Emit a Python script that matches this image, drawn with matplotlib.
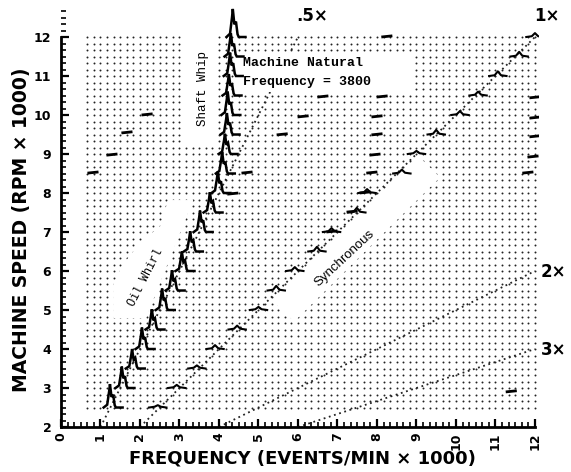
import numpy as np
import matplotlib
matplotlib.use("Agg")
import matplotlib.pyplot as plt
from matplotlib.patches import Polygon
from matplotlib.ticker import MultipleLocator

# cascade rows/columns: speed and frequency both in thousands
GRID_STEP = 1 / 6
row_speeds = np.arange(2.5, 12.0 + 1e-6, GRID_STEP)
col_freqs = np.arange(4 / 6, 12.0 + 1e-6, GRID_STEP)

# oil whirl -> shaft whip peak, one spectrum every 500 rpm
whirl_speed = [2.5, 3.0, 3.5, 4.0, 4.5, 5.0, 5.5, 6.0, 6.5, 7.0,
               7.5, 8.0, 8.5, 9.0, 9.5, 10.0, 10.5, 11.0, 11.5, 12.0]
whirl_freq = [1.24, 1.54, 1.80, 2.05, 2.30, 2.56, 2.81, 3.06, 3.27, 3.52,
              3.77, 3.97, 4.08, 4.15, 4.20, 4.22, 4.25, 4.28, 4.30, 4.35]
whirl_amp = [0.60, 0.55, 0.50, 0.55, 0.52, 0.55, 0.52, 0.50, 0.52, 0.55,
             0.52, 0.55, 0.55, 0.52, 0.55, 0.60, 0.55, 0.60, 0.60, 0.72]

# synchronous (1X) peaks
sync_speed = [2.5, 3.0, 3.5, 4.0, 4.5, 5.0, 5.5, 6.0, 6.5, 7.0,
              7.5, 8.0, 8.5, 9.0, 9.5, 10.0, 10.5, 11.0, 11.5, 12.0]
sync_freq = [2.45, 2.93, 3.44, 3.90, 4.46, 5.00, 5.45, 5.92, 6.48, 6.85,
             7.49, 7.75, 8.63, 9.00, 9.50, 10.10, 10.56, 11.06, 11.60, 12.0]
sync_amp = [0.06, 0.08, 0.08, 0.10, 0.10, 0.08, 0.12, 0.10, 0.12, 0.10,
            0.12, 0.10, 0.10, 0.08, 0.12, 0.10, 0.10, 0.12, 0.12, 0.10]

# small stray peaks in the cascade
noise_freq = [8.25, 6.63, 8.13, 6.13, 8.00, 5.60, 8.00, 7.95, 7.87, 11.82,
              11.95, 12.0, 12.0, 12.0, 7.70, 7.37, 6.86, 1.67, 1.29, 0.81,
              2.18, 4.71, 4.35, 11.40]
noise_speed = [12.0, 10.46, 10.46, 9.95, 9.95, 9.49, 9.49, 8.97, 8.51, 8.51,
               8.92, 9.44, 9.92, 10.44, 8.0, 7.51, 7.0, 9.54, 8.97, 8.51,
               10.0, 8.51, 7.97, 2.9]

orders = [0.5, 1, 2, 3]
order_labels = [".5×", "1×", "2×", "3×"]

fig = plt.figure(figsize=(5.71, 4.72), dpi=100)
ax = fig.add_axes([0.1068, 0.0953, 0.837, 0.8924])

# dotted noise floor of every spectrum
ff, ss = np.meshgrid(col_freqs, row_speeds)
ax.scatter(ff.ravel(), ss.ravel(), s=2.0, color="#222222", linewidths=0,
           zorder=1)

# order lines
for k in orders:
    sp = np.array([2.0, min(12.0, 12.0 / k)])
    ax.plot(k * sp, sp, color="#222222", lw=1.3, ls=(0, (1, 2.0)), zorder=1.5)

# white label areas that blank the cascade
masks = [
    [(3.08, 9.25), (3.92, 9.25), (3.92, 12.15), (3.08, 12.15)],
    [(4.45, 10.58), (8.9, 10.58), (8.9, 11.58), (4.45, 11.58)],
    [(1.32, 4.79), (1.32, 5.64), (1.54, 6.13), (2.0, 6.72), (2.51, 7.15),
     (2.71, 7.82), (3.35, 7.82), (2.15, 4.79)],
    [(5.35, 5.25), (9.05, 8.95), (9.6, 8.4), (5.9, 4.7)],
]
for m in masks:
    ax.add_patch(Polygon(m, closed=True, facecolor="white", edgecolor="none",
                         zorder=2))

# oil whirl / shaft whip spikes
for f, s, h in zip(whirl_freq, whirl_speed, whirl_amp):
    xs = [f - 0.16, f - 0.07, f - 0.02, f, f + 0.04, f + 0.08, f + 0.12,
          f + 0.15, f + 0.32]
    ys = [s, s + 0.12 * h, s + 0.7 * h, s + h, s + 0.45 * h, s + 0.55 * h,
          s + 0.1 * h, s, s]
    ax.plot(xs, ys, color="black", lw=1.8, solid_joinstyle="miter", zorder=4)

for f, s, h in zip(sync_freq, sync_speed, sync_amp):
    ax.plot([f - 0.22, f - 0.08, f, f + 0.08, f + 0.22],
            [s, s + 0.02, s + h, s + 0.02, s], color="black", lw=1.5,
            zorder=4)

for f, s in zip(noise_freq, noise_speed):
    ax.plot([f - 0.14, f + 0.14], [s, s + 0.03], color="black", lw=2.0,
            solid_capstyle="butt", zorder=4)

# axes
for side in ("top", "right"):
    ax.spines[side].set_visible(False)
ax.spines["left"].set_linewidth(2)
ax.spines["bottom"].set_linewidth(2)
ax.spines["left"].set_bounds(2, 12)
ax.spines["bottom"].set_bounds(0, 12)

ax.xaxis.set_minor_locator(MultipleLocator(GRID_STEP))
ax.yaxis.set_minor_locator(MultipleLocator(GRID_STEP))
ax.set_xticks(range(0, 13))
ax.set_yticks(range(2, 13))
ax.set_xticklabels([str(i) for i in range(0, 13)], rotation=90,
                   fontsize=9, fontweight="bold")
ax.set_yticklabels([str(i) for i in range(2, 13)], fontsize=9,
                   fontweight="bold")
ax.tick_params(which="major", direction="in", length=6, width=1.6, pad=4)
ax.tick_params(which="minor", direction="in", length=3.5, width=1.2)
ax.tick_params(axis="y", which="major", pad=7)

ax.set_xlim(0, 12.1)
ax.set_ylim(2, 12.8)

# annotations
mono = "Liberation Mono"
ax.text(4.61, 11.1, "Machine Natural\nFrequency = 3800", family=mono,
        fontsize=9.5, fontweight="bold", ha="left", va="center",
        linespacing=1.8, zorder=5)
ax.text(3.59, 10.69, "Shaft Whip", family=mono, fontsize=9, rotation=90,
        ha="center", va="center", zorder=5)
ax.text(2.15, 5.82, "Oil Whirl", family=mono, fontsize=8.5, rotation=63,
        ha="center", va="center", rotation_mode="anchor", zorder=5)
ax.text(7.19, 6.33, "Synchronous", family="Liberation Sans", fontsize=9.5,
        rotation=43, ha="center", va="center", rotation_mode="anchor",
        zorder=5)

order_pos = [(6.35, 12.54), (12.3, 12.54), (12.46, 5.97), (12.46, 3.97)]
for (x, y), lab in zip(order_pos, order_labels):
    ax.text(x, y, lab, family="DejaVu Sans", fontsize=12,
            fontweight="bold", ha="center", va="center", clip_on=False)

fig.text(0.0385, 0.5127, "MACHINE SPEED (RPM × 1000)", rotation=90,
         family="DejaVu Sans", fontsize=13.5, fontweight="bold",
         ha="center", va="center")
fig.text(0.529, 0.028, "FREQUENCY (EVENTS/MIN × 1000)",
         family="DejaVu Sans", fontsize=13, fontweight="bold",
         ha="center", va="center")

fig.savefig("out.png", dpi=100)
